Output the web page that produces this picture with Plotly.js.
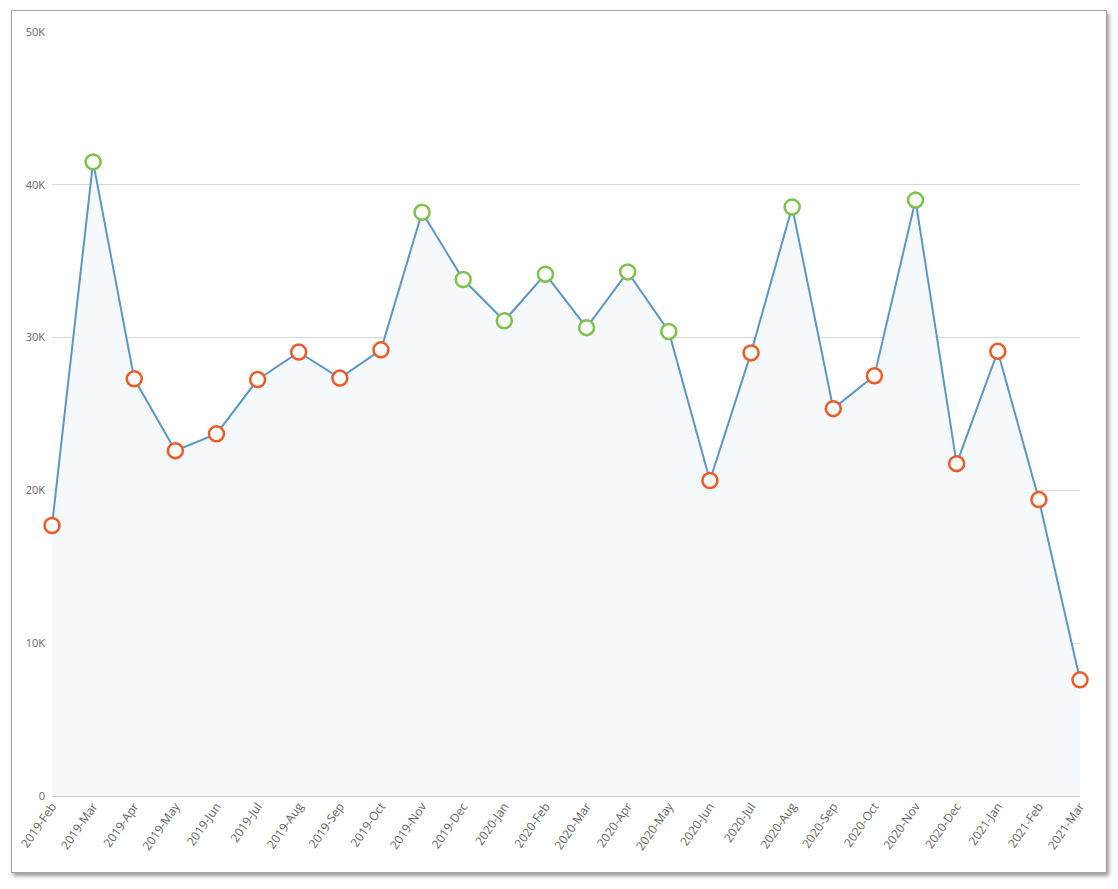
<!DOCTYPE html>
<html>
<head>
<meta charset="utf-8">
<script src="https://cdn.plot.ly/plotly-3.0.1.min.js"></script>
<style>
    body { margin: 0; background: #fff; }
    #card {
        position: absolute; left: 11px; top: 10px; width: 1094px; height: 861px;
        border: 1px solid #a0a0a0; background: #fff;
        box-shadow: 2px 3px 4px rgba(0,0,0,0.4);
    }
    #graphDiv { position: absolute; left: 0; top: 0; width: 1118px; height: 889px; }
</style>
</head>
<body>
<div id="card"></div>
<div id="graphDiv"></div>
<script>
// monthly totals
let months = ['2019-Feb','2019-Mar','2019-Apr','2019-May','2019-Jun','2019-Jul','2019-Aug','2019-Sep',
              '2019-Oct','2019-Nov','2019-Dec','2020-Jan','2020-Feb','2020-Mar','2020-Apr','2020-May',
              '2020-Jun','2020-Jul','2020-Aug','2020-Sep','2020-Oct','2020-Nov','2020-Dec','2021-Jan',
              '2021-Feb','2021-Mar'];
let totals = [17700, 41500, 27300, 22600, 23700, 27250, 29050, 27350,
              29200, 38200, 33800, 31100, 34150, 30650, 34300, 30400,
              20650, 29000, 38550, 25350, 27500, 39000, 21750, 29100,
              19400, 7600];
let target = 30000;  // points above this get the green marker
let yTicks = [0, 10000, 20000, 30000, 40000, 50000];
let yTickLabels = ['0', '10K', '20K', '30K', '40K', '50K'];

function init() {
    let markerColors = totals.map(v => v > target ? '#7dc24b' : '#ee5a24');

    let data = [{
        x: months,
        y: totals,
        type: 'scatter',
        mode: 'lines+markers',
        fill: 'tozeroy',
        fillcolor: '#f5f9fc',
        line: { color: '#5b97c6', width: 2 },
        marker: {
            size: 15,
            color: '#ffffff',
            line: { color: markerColors, width: 2.5 }
        },
        cliponaxis: false,
        hoverinfo: 'x+y'
    }];

    let layout = {
        width: 1118,
        height: 889,
        margin: { l: 52, r: 38, t: 32, b: 93 },
        paper_bgcolor: 'rgba(0,0,0,0)',
        plot_bgcolor: 'rgba(0,0,0,0)',
        showlegend: false,
        font: { family: '"Open Sans", "DejaVu Sans", sans-serif', size: 11, color: '#666' },
        xaxis: {
            type: 'category',
            range: [0, months.length - 1],
            showgrid: false,
            zeroline: false,
            showline: false,
            ticks: '',
            tickangle: -55,
            tickfont: { size: 12, color: '#666' }
        },
        yaxis: {
            range: [0, 50000],
            tickvals: yTicks,
            ticktext: yTickLabels,
            showgrid: true,
            gridcolor: '#d9d9d9',
            gridwidth: 1,
            zeroline: true,
            zerolinecolor: '#cfcfcf',
            zerolinewidth: 1,
            showline: false,
            ticks: '',
            ticklabelstandoff: 6,
            tickfont: { size: 11, color: '#666' }
        }
    };

    Plotly.newPlot('graphDiv', data, layout, { displayModeBar: false });
}

init();
</script>
</body>
</html>
